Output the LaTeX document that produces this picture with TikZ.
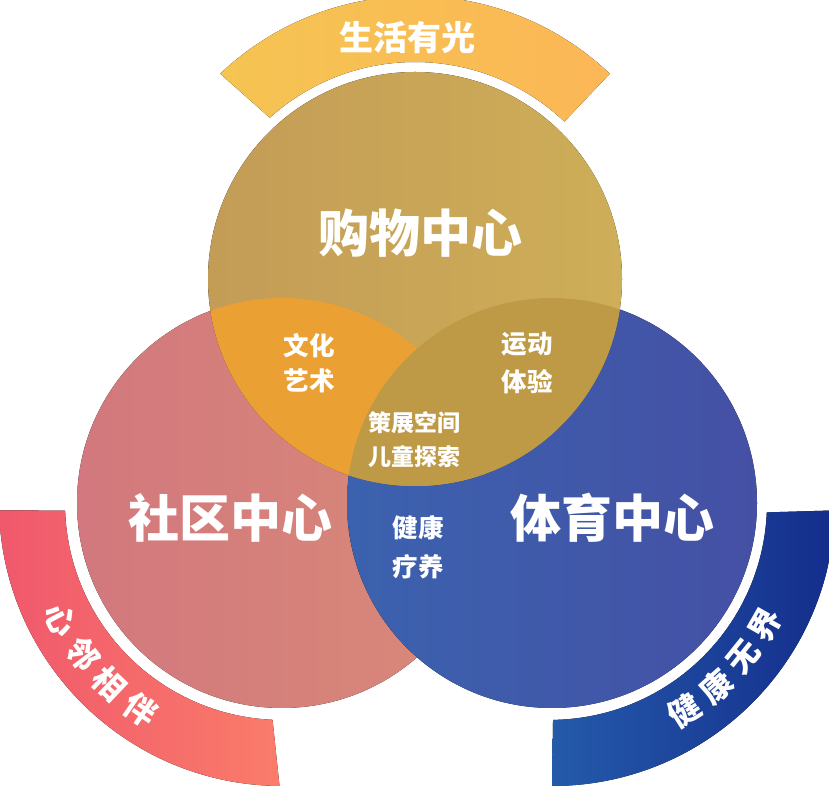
\documentclass[tikz,border=0pt]{standalone}
\usepackage{fontspec}
\IfFontExistsTF{Noto Sans CJK SC Black}
  {\newfontfamily\cjk{Noto Sans CJK SC Black}}
  {\newfontfamily\cjk{Noto Sans CJK SC}[UprightFeatures={FakeBold=1.2}]}
\definecolor{bandTopL}{RGB}{245,196,82}
\definecolor{bandTopR}{RGB}{252,183,86}
\definecolor{bandLeftL}{RGB}{240,88,108}
\definecolor{bandLeftR}{RGB}{250,124,106}
\definecolor{bandRightL}{RGB}{36,90,170}
\definecolor{bandRightR}{RGB}{20,45,140}
\definecolor{goldL}{RGB}{195,156,86}
\definecolor{goldR}{RGB}{206,174,88}
\definecolor{pinkL}{RGB}{210,120,126}
\definecolor{pinkR}{RGB}{217,138,120}
\definecolor{blueL}{RGB}{59,98,174}
\definecolor{blueR}{RGB}{69,80,165}
\definecolor{orangeC}{RGB}{235,160,52}
\definecolor{oliveC}{RGB}{190,154,70}
\begin{document}
\begin{tikzpicture}[x=1pt,y=1pt,
  txt/.style={text=white, inner sep=0pt, anchor=center},
  bigtitle/.style={txt, font=\cjk\fontsize{51}{51}\selectfont},
  toptitle/.style={txt, font=\cjk\fontsize{34}{34}\selectfont},
  midtxt/.style={txt, font=\cjk\fontsize{25.5}{25.5}\selectfont},
  smalltxt/.style={txt, font=\cjk\fontsize{23}{23}\selectfont},
  bandtxt/.style={txt, font=\cjk\fontsize{32}{32}\selectfont}]
\useasboundingbox (0,0) rectangle (829,786);
\clip (0,0) rectangle (829,786);
\coordinate (ct) at (415,507);
\coordinate (cl) at (282,283);
\coordinate (cr) at (552,283);
% outer bands
\fill[left color=bandTopL, right color=bandTopR]
  ([shift={(46.5:283)}]ct) arc[start angle=46.5, end angle=133.5, radius=283]
  -- ([shift={(132:217)}]ct) arc[start angle=132, end angle=46.5, radius=217] -- cycle;
\fill[left color=bandLeftL, right color=bandLeftR]
  ([shift={(181.5:283)}]cl) arc[start angle=181.5, end angle=269.5, radius=283]
  -- ([shift={(267.5:217)}]cl) arc[start angle=267.5, end angle=182, radius=217] -- cycle;
\fill[left color=bandRightL, right color=bandRightR]
  ([shift={(-90:283)}]cr) arc[start angle=-90, end angle=-1.5, radius=283]
  -- ([shift={(-2.5:215)}]cr) arc[start angle=-2.5, end angle=-89.2, radius=217] -- cycle;
% circles
\fill[left color=pinkL, right color=pinkR] (cl) circle[radius=205];
\fill[left color=blueL, right color=blueR] (cr) circle[radius=205];
\fill[left color=goldL, right color=goldR] (ct) circle[radius=207];
\begin{scope}
  \clip (ct) circle[radius=207];
  \fill[orangeC] (cl) circle[radius=205];
  \fill[oliveC] (cr) circle[radius=205];
\end{scope}
% texts
\node[toptitle] (tband) at (407,748) {生活有光};
\node[bigtitle] (tshop) at (420,553) {购物中心};
\node[bigtitle] (tcomm) at (230,268) {社区中心};
\node[bigtitle] (tsport) at (612,268) {体育中心};
\node[midtxt] (wh1) at (309,440) {文化};
\node[midtxt] (wh2) at (309,405) {艺术};
\node[midtxt] (yd1) at (527,442) {运动};
\node[midtxt] (yd2) at (527,404) {体验};
\node[smalltxt] (cz1) at (414,363) {策展空间};
\node[smalltxt] (cz2) at (414,329) {儿童探索};
\node[midtxt] (jk1) at (418,258) {健康};
\node[midtxt] (jk2) at (418,219) {疗养};
\foreach \a/\c [count=\i] in {207.9/心, 217.2/邻, 226.4/相, 235.6/伴}
  \node[bandtxt, rotate=\a+90] (lb\i) at ([shift={(\a:250)}]cl) {\c};
\foreach \a/\c [count=\i] in {-57.5/健, -48.2/康, -38.9/无, -29.6/界}
  \node[bandtxt, rotate=\a+90] (rb\i) at ([shift={(\a:246)}]cr) {\c};
\end{tikzpicture}
\end{document}
